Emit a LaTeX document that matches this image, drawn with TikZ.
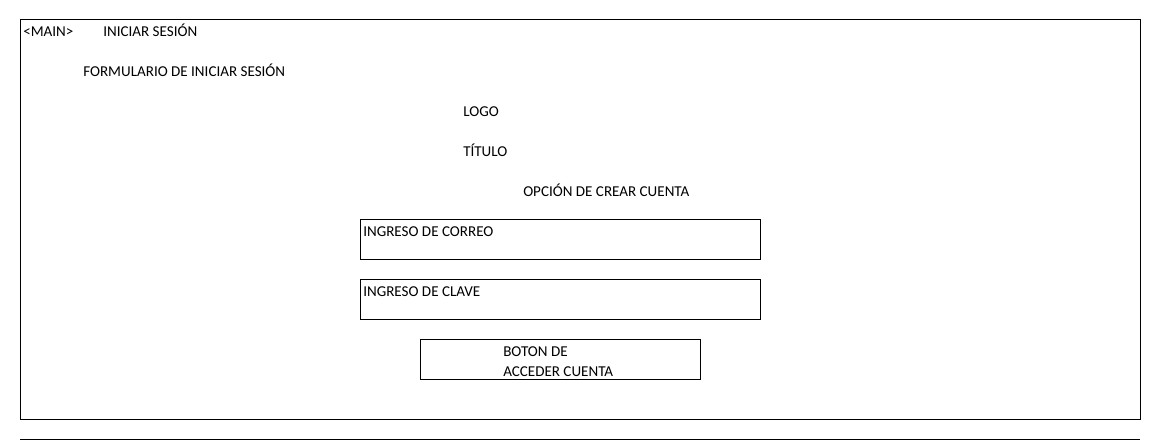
\documentclass[tikz,border=0pt]{standalone}
\usepackage{fontspec}
\setmainfont{Carlito}
\usepackage{tikz}
\tikzset{
	etiqueta/.style={anchor=base west, inner sep=0pt, font=\fontsize{11.3}{13}\selectfont},
	caja/.style={line width=0.75pt, color=black}
}

\begin{document}
\begin{tikzpicture}[x=0.75pt, y=-0.75pt]
		%%%%% START %%%%%
		\useasboundingbox (0, 0) rectangle (1161, 441);
		
		\draw[caja] (20, 20) rectangle (1140, 420);
		\draw[caja] (20, 440) -- (1140, 440);
		
		\node[etiqueta] (main) at (23, 36.5) {<MAIN>};
		\node[etiqueta] (titulovista) at (103, 36.5) {INICIAR SESIÓN};
		\node[etiqueta] (formulario) at (83, 76.5) {FORMULARIO DE INICIAR SESIÓN};
		
		\node[etiqueta] (logo) at (463, 116.5) {LOGO};
		\node[etiqueta] (titulo) at (463, 156.5) {TÍTULO};
		\node[etiqueta] (crear) at (523, 196.5) {OPCIÓN DE CREAR CUENTA};
		
		\draw[caja] (360, 220) rectangle (760, 260);
		\node[etiqueta] (correo) at (363, 236.5) {INGRESO DE CORREO};
		
		\draw[caja] (360, 280) rectangle (760, 320);
		\node[etiqueta] (clave) at (363, 296.5) {INGRESO DE CLAVE};
		
		\draw[caja] (420, 340) rectangle (700, 380);
		\node[etiqueta] (boton) at (503, 356.5) {BOTON DE};
		\node[etiqueta] (acceder) at (503, 376.5) {ACCEDER CUENTA};
		
		%%%%% END %%%%%
	\end{tikzpicture}
\end{document}
